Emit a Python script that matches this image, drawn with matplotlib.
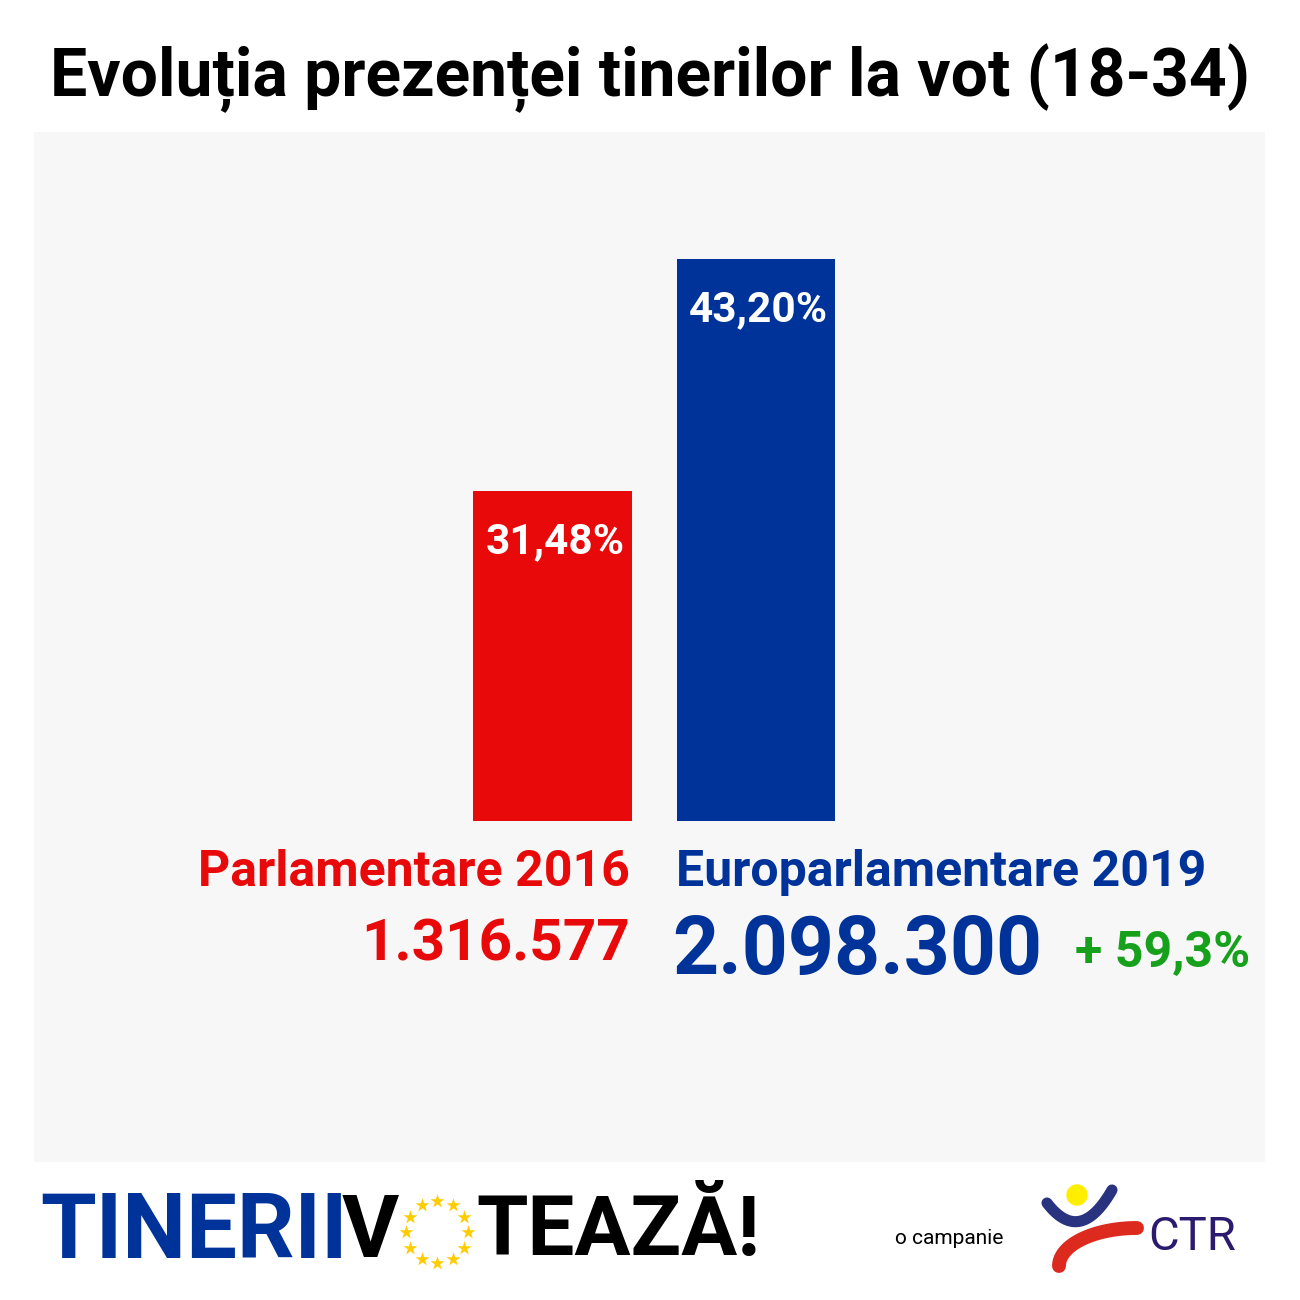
import numpy as np
import matplotlib
matplotlib.use("Agg")
import matplotlib.pyplot as plt
from matplotlib.patches import Rectangle, Ellipse
import matplotlib.font_manager as fm

# ---- data
categories = ["Parlamentare 2016", "Europarlamentare 2019"]
turnout_pct = [31.48, 43.20]
pct_labels = ["31,48%", "43,20%"]
voters = ["1.316.577", "2.098.300"]
growth_label = "+ 59,3%"
title = "Evoluția prezenței tinerilor la vot (18-34)"

RED = "#e8090a"
BLUE = "#003399"
GREEN = "#16a01b"
PANEL = "#f7f7f7"

names = {f.name for f in fm.fontManager.ttflist}
FONT = "Liberation Sans Narrow" if "Liberation Sans Narrow" in names else "Roboto"
plt.rcParams["font.family"] = [FONT, "DejaVu Sans"]

W = H = 1300
fig = plt.figure(figsize=(13, 13), dpi=100)
fig.patch.set_facecolor("white")

def fx(x):
    return x / W

def fy(y):
    return 1 - y / H

# grey panel behind everything
fig.patches.append(Rectangle((fx(34), fy(1162)), fx(1265) - fx(34), fy(132) - fy(1162),
                             transform=fig.transFigure, facecolor=PANEL, edgecolor="none", zorder=-5))

fig.text(0.5, fy(78), title, ha="center", va="center", fontsize=47.5, fontweight="bold", color="black")

# bars axes (bottom of axes clips the bars like in the original)
ax = fig.add_axes([fx(34), fy(821), fx(1265) - fx(34), fy(132) - fy(821)])
ax.set_facecolor("none")
x = np.arange(len(categories))
bars = ax.bar(x, turnout_pct, width=0.78, color=[RED, BLUE])
ax.set_xlim(-2.548, 3.501)
ax.set_ylim(14.8, 49.6)
ax.axis("off")
for b, lab in zip(bars, pct_labels):
    ax.annotate(lab, (b.get_x() + b.get_width() / 2, b.get_height()), xytext=(2, -37),
                textcoords="offset points", ha="center", va="center",
                fontsize=30.5, fontweight="bold", color="white")

# category labels and voters
fig.text(fx(630), fy(872), categories[0], ha="right", va="center", fontsize=36, fontweight="bold", color=RED)
fig.text(fx(676), fy(872), categories[1], ha="left", va="center", fontsize=36, fontweight="bold", color=BLUE)
fig.text(fx(630), fy(945), voters[0], ha="right", va="center", fontsize=42, fontweight="bold", color=RED)
fig.text(fx(672), fy(952), voters[1], ha="left", va="center", fontsize=58, fontweight="bold", color=BLUE)
fig.text(fx(1075), fy(954), growth_label, ha="left", va="center", fontsize=36, fontweight="bold", color=GREEN)

# footer logo: TINERII V(stars)TEAZĂ!
fig.text(fx(40), fy(1233), "TINERII", ha="left", va="center", fontsize=65, fontweight="bold", color=BLUE)
fig.text(fx(342), fy(1233), "V", ha="left", va="center", fontsize=63, fontweight="bold", color="black")
fig.text(fx(476), fy(1233), "TEAZĂ!", ha="left", va="center", fontsize=60, fontweight="bold", color="black")

over = fig.add_axes([0, 0, 1, 1], zorder=5)
over.set_xlim(0, 1)
over.set_ylim(0, 1)
over.axis("off")
cx, cy, r = 437, 1232, 31
ang = np.linspace(0, 2 * np.pi, 12, endpoint=False)
over.scatter(fx(cx + r * np.cos(ang)), fy(cy + r * np.sin(ang)), marker="*", s=110,
             color="#ffcc00", linewidths=0)

# "o campanie" + CTR mark
fig.text(fx(895), fy(1238), "o campanie", ha="left", va="center", fontsize=15, color="black")
over.add_patch(Ellipse((fx(1077), fy(1195)), fx(20), fx(20), color="#ffee00"))
# blue bowl as a quadratic curve
t = np.linspace(0, 1, 40)
p0, c, p2 = np.array([1047, 1203]), np.array([1080, 1246]), np.array([1112, 1190])
bowl = ((1 - t) ** 2)[:, None] * p0 + (2 * t * (1 - t))[:, None] * c + (t ** 2)[:, None] * p2
over.plot(fx(bowl[:, 0]), fy(bowl[:, 1]), color="#2a3380", lw=8, solid_capstyle="round")
# red swoosh as a quarter ellipse
th = np.linspace(0, np.pi / 2, 40)
over.plot(fx(1137 - 78 * np.cos(th)), fy(1266 - 38 * np.sin(th)),
          color="#dc2a1f", lw=10, solid_capstyle="round")
fig.text(fx(1148), fy(1237), "CTR", ha="left", va="center", fontsize=34, color="#2b1a6e")

fig.savefig("out.png", dpi=100)
